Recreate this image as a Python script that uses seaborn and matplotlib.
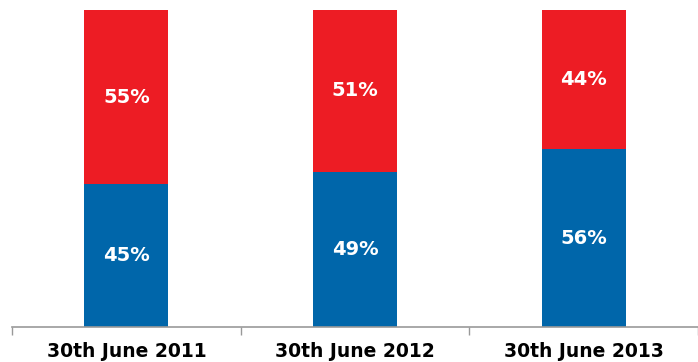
import matplotlib
matplotlib.use("Agg")
import matplotlib.pyplot as plt
import seaborn as sns
import pandas as pd
import numpy as np

categories = ["30th June 2011", "30th June 2012", "30th June 2013"]
blue_share = [45, 49, 56]
red_share = [55, 51, 44]

BLUE = "#0066AA"
RED = "#ED1C24"

sns.set_theme(style="white")
plt.rcParams["font.family"] = ["DejaVu Sans"]

df = pd.DataFrame({"period": categories, "blue": blue_share, "red": red_share})
df["total"] = df["blue"] + df["red"]

fig = plt.figure(figsize=(6.98, 3.62), dpi=100)
ax = fig.add_axes([12 / 698, 1 - 327 / 362, 1 - 12 / 698, (327 - 10) / 362])

# stacked: full-height red bar behind, blue share drawn over it
sns.barplot(data=df, x="period", y="total", color=RED, width=0.367, saturation=1,
            linewidth=0, ax=ax)
sns.barplot(data=df, x="period", y="blue", color=BLUE, width=0.367, saturation=1,
            linewidth=0, ax=ax)

for i, (b, r) in enumerate(zip(blue_share, red_share)):
    ax.text(i, b / 2, f"{b}%", ha="center", va="center", color="white",
            fontsize=14, fontweight="bold")
    ax.text(i, b + r / 2, f"{r}%", ha="center", va="center", color="white",
            fontsize=14, fontweight="bold")

ax.set_xlim(-0.5, 2.5)
ax.set_ylim(0, 100)
ax.set_xlabel("")
ax.set_ylabel("")
ax.set_yticks([])

# boundary tick marks between categories, labels at centres
ax.set_xticks([-0.5, 0.5, 1.5, 2.5])
ax.set_xticklabels([])
ax.set_xticks([0, 1, 2], minor=True)
ax.set_xticklabels(categories, minor=True, fontsize=13.5, fontweight="bold", color="black")
ax.tick_params(axis="x", which="major", bottom=True, length=6, width=1, color="#999999", direction="out")
ax.tick_params(axis="x", which="minor", bottom=True, length=0, pad=11)

for side in ["top", "right", "left"]:
    ax.spines[side].set_visible(False)
ax.spines["bottom"].set_color("#999999")
ax.spines["bottom"].set_linewidth(1.2)

fig.savefig("out.png", dpi=100)
